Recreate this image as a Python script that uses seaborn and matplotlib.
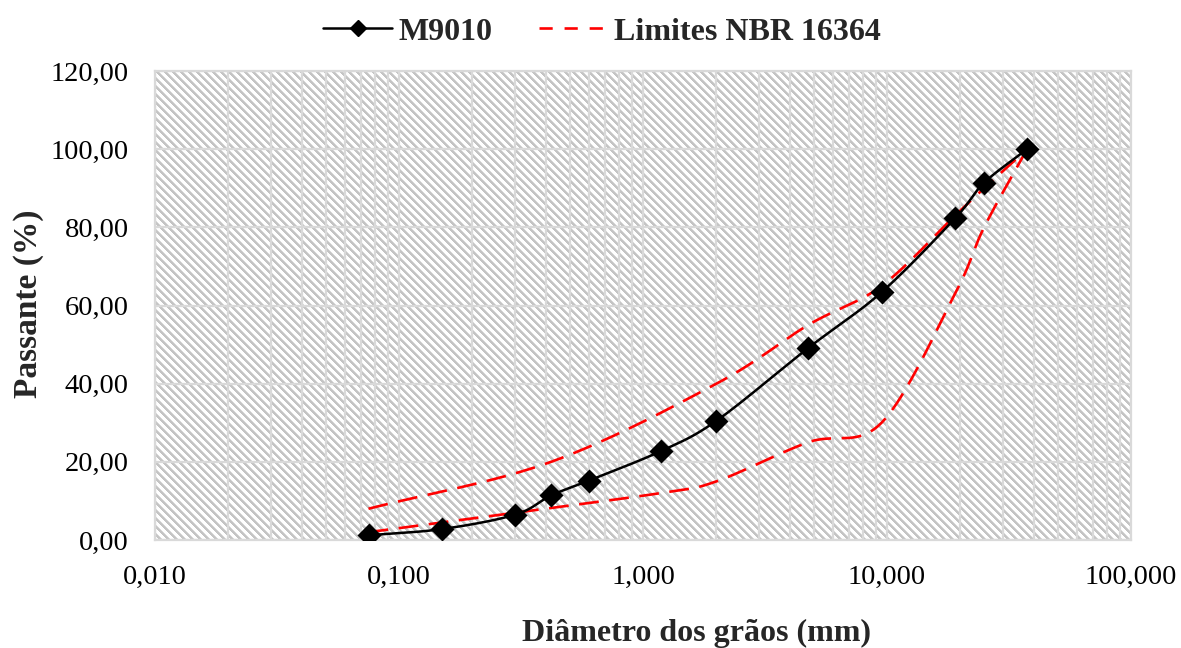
import numpy as np
import pandas as pd
import matplotlib
matplotlib.use("Agg")
import matplotlib.pyplot as plt
from matplotlib.lines import Line2D
from matplotlib.ticker import FixedLocator, LogLocator, FuncFormatter, NullFormatter
import seaborn as sns

# Sieve openings (mm) and passing percentages
sieves = [0.075, 0.15, 0.3, 0.42, 0.6, 1.18, 2.0, 4.75, 9.5, 19.0, 25.0, 37.5]
m9010 = [1.2, 2.8, 6.5, 11.4, 15.2, 22.7, 30.5, 49.1, 63.4, 82.3, 91.4, 100.0]

upper_sieves = [0.075, 0.42, 2.0, 4.75, 9.5, 19.0, 25.0, 37.5]
upper_limit = [8.0, 20.0, 40.0, 55.0, 65.0, 83.0, 90.0, 100.0]

lower_sieves = [0.075, 0.3, 1.18, 2.0, 4.75, 9.5, 19.0, 25.0, 37.5]
lower_limit = [2.0, 7.0, 12.0, 15.0, 25.0, 30.0, 63.0, 80.0, 100.0]

x_ticks = [0.01, 0.1, 1, 10, 100]
y_ticks = [0, 20, 40, 60, 80, 100, 120]

series_name = "M9010"
limit_name = "Limites NBR 16364"
x_label = "Diâmetro dos grãos (mm)"
y_label = "Passante (%)"


def smooth(xs, ys, n=40):
    """Catmull-Rom spline through the points, in log10(x) space."""
    lx = np.log10(np.asarray(xs, float))
    y = np.asarray(ys, float)
    px = np.concatenate([[2 * lx[0] - lx[1]], lx, [2 * lx[-1] - lx[-2]]])
    py = np.concatenate([[2 * y[0] - y[1]], y, [2 * y[-1] - y[-2]]])
    out_x, out_y = [], []
    t = np.linspace(0, 1, n, endpoint=False)
    for i in range(1, len(px) - 2):
        p0, p1, p2, p3 = px[i - 1], px[i], px[i + 1], px[i + 2]
        q0, q1, q2, q3 = py[i - 1], py[i], py[i + 1], py[i + 2]
        m1x, m2x = (p2 - p0) / 2, (p3 - p1) / 2
        m1y, m2y = (q2 - q0) / 2, (q3 - q1) / 2
        h00 = 2 * t**3 - 3 * t**2 + 1
        h10 = t**3 - 2 * t**2 + t
        h01 = -2 * t**3 + 3 * t**2
        h11 = t**3 - t**2
        out_x.append(h00 * p1 + h10 * m1x + h01 * p2 + h11 * m2x)
        out_y.append(h00 * q1 + h10 * m1y + h01 * q2 + h11 * m2y)
    out_x.append([lx[-1]])
    out_y.append([y[-1]])
    return 10 ** np.concatenate(out_x), np.concatenate(out_y)


sns.set_theme(style="white")
plt.rcParams["font.family"] = ["Liberation Serif", "DejaVu Serif"]

W, H = 1181, 648
L, R, T, B = 155, 1131, 71, 540
rect = [L / W, 1 - B / H, (R - L) / W, (B - T) / H]

fig = plt.figure(figsize=(W / 100, H / 100), dpi=100)

# Plot-area fill: wide downward diagonal stripes
bg = fig.add_axes(rect, zorder=0)
rows, cols = np.mgrid[0:B - T, 0:R - L]
phase = (cols - rows) % 8
tile = np.full(phase.shape, 1.0)
tile[phase < 3] = 0.77
tile[phase == 3] = 0.86
bg.imshow(np.dstack([tile] * 3), aspect="auto", interpolation="nearest")
bg.axis("off")

ax = fig.add_axes(rect, zorder=1)
ax.patch.set_visible(False)
ax.set_xscale("log")
ax.set_xlim(0.01, 100)
ax.set_ylim(0, 120)

# Grid
ax.set_axisbelow(True)
ax.xaxis.set_major_locator(FixedLocator(x_ticks))
ax.xaxis.set_minor_locator(LogLocator(base=10, subs=np.arange(2, 10)))
ax.xaxis.set_minor_formatter(NullFormatter())
ax.yaxis.set_major_locator(FixedLocator(y_ticks))
ax.grid(True, which="major", axis="both", color="#d9d9d9", linewidth=1.6, zorder=0.5)
ax.grid(True, which="minor", axis="x", color="#d9d9d9", linewidth=1.6, zorder=0.5)
for s in ax.spines.values():
    s.set_color("#d9d9d9")
    s.set_linewidth(1.6)

# Limit curves
for xs, ys in [(upper_sieves, upper_limit), (lower_sieves, lower_limit)]:
    sx, sy = smooth(xs, ys)
    sns.lineplot(x=sx, y=sy, sort=False, ax=ax, color="#ff0000", linewidth=1.9,
                 zorder=3).lines[-1].set_dashes([7.5, 4])

# Mixture curve
sx, sy = smooth(sieves, m9010)
sns.lineplot(x=sx, y=sy, sort=False, ax=ax, color="black", linewidth=1.8, zorder=4)
sns.scatterplot(x=sieves, y=m9010, ax=ax, marker="D", s=150, color="black",
                edgecolor="black", linewidth=0, zorder=5)

# Tick labels
ax.xaxis.set_major_formatter(FuncFormatter(lambda v, p: f"{v:.3f}".replace(".", ",")))
ax.yaxis.set_major_formatter(FuncFormatter(lambda v, p: f"{v:.2f}".replace(".", ",")))
ax.tick_params(axis="x", which="both", length=0, pad=18, labelsize=20.5, colors="black")
ax.tick_params(axis="y", which="both", length=0, pad=19, labelsize=20.5, colors="black")

ax.set_xlabel(x_label, fontsize=23, fontweight="bold")
ax.xaxis.set_label_coords((697 - L) / (R - L), (B - 633) / (B - T))
ax.xaxis.label.set_va("center")
ax.set_ylabel(y_label, fontsize=24, fontweight="bold")
ax.yaxis.set_label_coords((28 - L) / (R - L), (B - 304) / (B - T))
ax.yaxis.label.set_va("center")

handles = [
    Line2D([], [], color="black", linewidth=1.8, marker="D", markersize=8.5),
    Line2D([], [], color="#ff0000", linewidth=1.9, dashes=[5, 4.5]),
]
fig.legend(handles, [series_name, limit_name], loc="center",
           bbox_to_anchor=(602 / W, 1 - 32 / H), ncol=2, frameon=False,
           prop={"weight": "bold", "size": 23},
           handlelength=2.16, columnspacing=1.44, handletextpad=0.19)

fig.savefig("out.png", dpi=100)
